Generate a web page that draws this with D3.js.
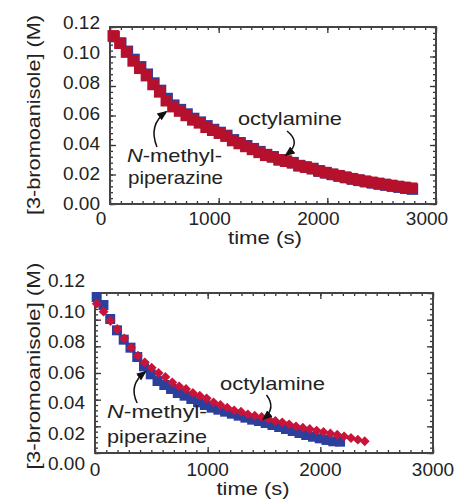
<!DOCTYPE html>
<html>
<head>
<meta charset="utf-8">
<script src="https://cdn.jsdelivr.net/npm/d3@7"></script>
<style>
  body { margin: 0; background: #fff; }
  text { font-family: "Liberation Sans", Arial, sans-serif; fill: #222; }
</style>
</head>
<body>
<script>
// ---- data ----
// top panel
var topTime = [30, 91, 152, 213, 274, 335, 396, 457, 518, 579, 640, 701, 762, 823, 884, 945, 1006,
               1067, 1128, 1189, 1250, 1311, 1372, 1433, 1494, 1555, 1616, 1677, 1738, 1799, 1860,
               1921, 1982, 2043, 2104, 2165, 2226, 2287, 2348, 2409, 2470, 2531, 2592, 2653, 2714, 2775];
var topRed = [0.114, 0.109, 0.103, 0.097, 0.092, 0.087, 0.081, 0.076, 0.070, 0.066, 0.063, 0.060,
              0.057, 0.055, 0.052, 0.050, 0.048, 0.046, 0.043, 0.041, 0.039, 0.037, 0.035, 0.033,
              0.032, 0.030, 0.029, 0.028, 0.026, 0.025, 0.024, 0.0225, 0.0213, 0.0202, 0.0192,
              0.0182, 0.0172, 0.0163, 0.0155, 0.0147, 0.0140, 0.0133, 0.0126, 0.0119, 0.0113, 0.0107];
var topBlueTime = [38, 99, 160, 221, 282, 343, 404, 465, 526, 587, 648, 709, 770, 831, 892, 953, 1014,
                   1075, 1136, 1197, 1258, 1319, 1380, 1441, 1502, 1563, 1624, 1685, 1746, 1807, 1868,
                   1929, 1990, 2051, 2112, 2173, 2234, 2295, 2356, 2417, 2478, 2539, 2600, 2661, 2722, 2783];
var topBlue = [0.1135, 0.109, 0.1035, 0.098, 0.093, 0.088, 0.082, 0.077, 0.0715, 0.067, 0.064, 0.061,
               0.058, 0.0555, 0.053, 0.0505, 0.0485, 0.0465, 0.0435, 0.0415, 0.0395, 0.0375, 0.0355,
               0.0335, 0.032, 0.030, 0.029, 0.028, 0.026, 0.025, 0.024, 0.0223, 0.0211, 0.0200,
               0.0189, 0.0179, 0.0169, 0.0160, 0.0151, 0.0143, 0.0135, 0.0128, 0.0121, 0.0114, 0.0107, 0.0101];

// bottom panel
var botBlueTime = [15, 75, 135, 195, 255, 315, 375, 435, 495, 555, 615, 675, 735, 795, 855, 915, 975,
                   1035, 1095, 1155, 1215, 1275, 1335, 1395, 1455, 1515, 1575, 1635, 1695, 1755, 1815,
                   1875, 1935, 1995, 2055, 2115, 2175];
var botBlue = [0.117, 0.111, 0.1005, 0.092, 0.085, 0.079, 0.072, 0.065, 0.059, 0.054, 0.051, 0.048,
               0.045, 0.043, 0.0405, 0.038, 0.036, 0.034, 0.0325, 0.031, 0.0295, 0.028, 0.0265, 0.025,
               0.024, 0.0225, 0.021, 0.0195, 0.018, 0.0165, 0.015, 0.0135, 0.0122, 0.011, 0.0098,
               0.0088, 0.0085];
var botRedTime = [15, 76, 137, 198, 259, 320, 381, 442, 503, 564, 625, 686, 747, 808, 869, 930, 991,
                  1052, 1113, 1174, 1235, 1296, 1357, 1418, 1479, 1540, 1601, 1662, 1723, 1784, 1845,
                  1906, 1967, 2028, 2089, 2150, 2211, 2272, 2333, 2394];
var botRed = [0.112, 0.106, 0.099, 0.093, 0.086, 0.079, 0.073, 0.068, 0.064, 0.060, 0.057, 0.053,
              0.050, 0.048, 0.045, 0.043, 0.041, 0.038, 0.036, 0.034, 0.032, 0.031, 0.029, 0.028,
              0.027, 0.0255, 0.024, 0.023, 0.0215, 0.020, 0.019, 0.018, 0.0168, 0.0158, 0.0147,
              0.0137, 0.0125, 0.0113, 0.0100, 0.0088];

var xTicks = [0, 1000, 2000, 3000];
var yTicks = [0, 0.02, 0.04, 0.06, 0.08, 0.10, 0.12];
var yTickLabels = ["0.00", "0.02", "0.04", "0.06", "0.08", "0.10", "0.12"];

var red = "#b5112c", red2 = "#c8143a", blue = "#2d3f9c";

var svg = d3.select("body").append("svg")
    .attr("width", 454).attr("height", 500);

svg.append("defs").append("marker")
    .attr("id", "head")
    .attr("viewBox", "0 0 10 10")
    .attr("refX", 8).attr("refY", 5)
    .attr("markerWidth", 7).attr("markerHeight", 7)
    .attr("orient", "auto")
    .append("path").attr("d", "M0,1 L10,5 L0,9 Z").attr("fill", "#111");

function zip(t, v) {
    return t.map(function(d, i) { return {t: d, c: v[i]}; });
}

function stretched(g, str, x, y, len, anchor) {
    return g.append("text")
        .attr("x", x).attr("y", y)
        .attr("font-size", 19)
        .attr("text-anchor", anchor || "start")
        .attr("textLength", len)
        .attr("lengthAdjust", "spacingAndGlyphs")
        .text(str);
}

// draws frame, inward ticks on all four sides and labels
function panel(p) {
    var x = d3.scaleLinear().domain([0, 3000]).range([p.left, p.right]);
    var y = d3.scaleLinear().domain([0, 0.12]).range([p.bottom, p.top]);
    var g = svg.append("g");

    var xMinor = d3.range(0, 3001, 100), yMinor = d3.range(0, 0.1201, 0.004);

    function ax(axis, scale, vals, size, tr) {
        g.append("g").attr("transform", tr)
            .call(axis(scale).tickValues(vals).tickSize(size).tickFormat(""))
            .call(function(s) {
                s.select(".domain").remove();
                s.selectAll("line").attr("stroke", "#333").attr("stroke-width", 1.3);
            });
    }
    ax(d3.axisBottom, x, xMinor, -3, "translate(0," + p.bottom + ")");
    ax(d3.axisBottom, x, xTicks, -6, "translate(0," + p.bottom + ")");
    ax(d3.axisTop, x, xMinor, -3, "translate(0," + p.top + ")");
    ax(d3.axisTop, x, xTicks, -6, "translate(0," + p.top + ")");
    ax(d3.axisLeft, y, yMinor, -3, "translate(" + p.left + ",0)");
    ax(d3.axisLeft, y, yTicks, -6, "translate(" + p.left + ",0)");
    ax(d3.axisRight, y, yMinor, -3, "translate(" + p.right + ",0)");
    ax(d3.axisRight, y, yTicks, -6, "translate(" + p.right + ",0)");

    g.append("rect")
        .attr("x", p.left).attr("y", p.top)
        .attr("width", p.right - p.left).attr("height", p.bottom - p.top)
        .attr("fill", "none").attr("stroke", "#444").attr("stroke-width", 2);

    // tick labels (the figure's labels sit slightly off the ticks)
    var yl = d3.scaleLinear().domain([0, 0.12]).range(p.yLabelRange);
    g.selectAll(".yl").data(yTicks).enter().append("text")
        .attr("x", p.yLabelX).attr("y", function(d) { return yl(d); })
        .attr("text-anchor", "end").attr("font-size", 19)
        .text(function(d, i) { return yTickLabels[i]; });
    g.selectAll(".xl").data(xTicks).enter().append("text")
        .attr("x", function(d) { return x(d) + p.xLabelDx; }).attr("y", p.xLabelY)
        .attr("text-anchor", "middle").attr("font-size", 19)
        .text(function(d) { return d; });

    stretched(g, "time (s)", p.xTitle[0], p.xTitle[1], p.xTitle[2], "middle");
    stretched(g, "[3-bromoanisole] (M)", 0, 0, p.yTitle[2], "middle")
        .attr("transform", "translate(" + p.yTitle[0] + "," + p.yTitle[1] + ") rotate(-90)");

    return {g: g, x: x, y: y};
}

function squares(pn, data, size, color) {
    pn.g.append("g").selectAll("rect").data(data).enter().append("rect")
        .attr("x", function(d) { return pn.x(d.t) - size / 2; })
        .attr("y", function(d) { return pn.y(d.c) - size / 2; })
        .attr("width", size).attr("height", size)
        .attr("fill", color);
}

function diamonds(pn, data, size, color) {
    var sym = d3.symbol().type(d3.symbolSquare).size(size * size);
    pn.g.append("g").selectAll("path").data(data).enter().append("path")
        .attr("d", sym)
        .attr("transform", function(d) {
            return "translate(" + pn.x(d.t) + "," + pn.y(d.c) + ") rotate(45)";
        })
        .attr("fill", color);
}

function annotate(pn, a) {
    stretched(pn.g, "octylamine", pn.x(a.oct[0]), pn.y(a.oct[1]), a.oct[2], "middle");
    var t1 = stretched(pn.g, "", pn.x(a.nme[0]), pn.y(a.nme[1]), a.nme[2]);
    t1.append("tspan").attr("font-style", "italic").text("N");
    t1.append("tspan").text("-methyl-");
    stretched(pn.g, "piperazine", pn.x(a.pip[0]), pn.y(a.pip[1]), a.pip[2]);
    [a.octArrow, a.nmeArrow].forEach(function(r) {
        var path = d3.path();
        path.moveTo(pn.x(r[0][0]), pn.y(r[0][1]));
        path.quadraticCurveTo(pn.x(r[1][0]), pn.y(r[1][1]), pn.x(r[2][0]), pn.y(r[2][1]));
        pn.g.append("path").attr("d", path.toString())
            .attr("fill", "none").attr("stroke", "#111").attr("stroke-width", 1.5)
            .attr("marker-end", "url(#head)");
    });
}

// ---- top panel ----
var p1 = panel({left: 110, right: 436, top: 27, bottom: 204,
    yLabelRange: [210, 29], yLabelX: 100, xLabelY: 225, xLabelDx: -9,
    xTitle: [265, 244, 74], yTitle: [40, 115, 200]});
squares(p1, zip(topBlueTime, topBlue), 11.5, blue);
squares(p1, zip(topTime, topRed), 11.5, red);
annotate(p1, {
    oct: [1656, 0.0536, 104],
    nme: [156, 0.0285, 95],
    pip: [166, 0.0136, 95],
    octArrow: [[1629, 0.0495], [1767, 0.0414], [1620, 0.0332]],
    nmeArrow: [[432, 0.0386], [350, 0.0536], [515, 0.0624]]
});

// ---- bottom panel ----
var p2 = panel({left: 95, right: 433, top: 293, bottom: 453,
    yLabelRange: [470, 287], yLabelX: 85, xLabelY: 476, xLabelDx: 0,
    xTitle: [253, 495, 73], yTitle: [40, 366, 207]});
squares(p2, zip(botBlueTime, botBlue), 10, blue);
diamonds(p2, zip(botRedTime, botRed), 7, red2);
annotate(p2, {
    oct: [1576, 0.0473, 105],
    nme: [107, 0.02625, 100],
    pip: [107, 0.0075, 100],
    octArrow: [[1522, 0.0435], [1611, 0.03375], [1496, 0.0255]],
    nmeArrow: [[374, 0.0375], [294, 0.051], [445, 0.0608]]
});
</script>
</body>
</html>
